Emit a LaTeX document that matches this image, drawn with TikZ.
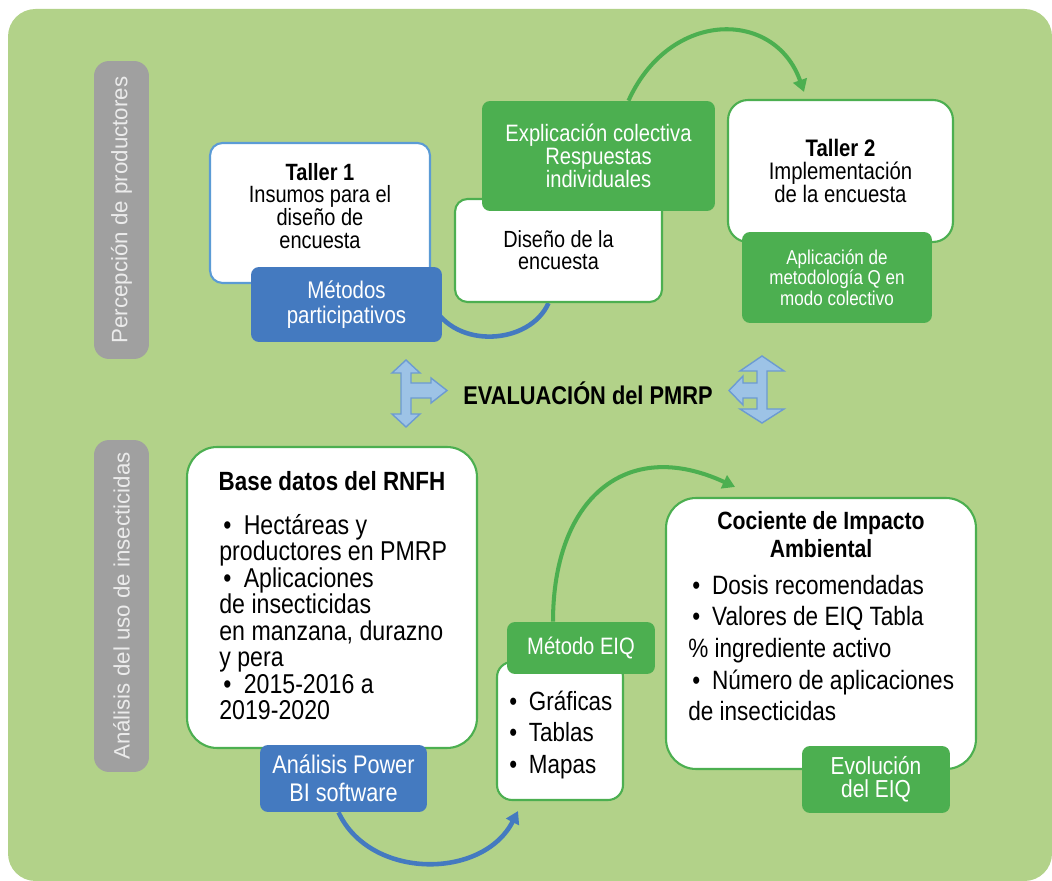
\documentclass[tikz,border=0pt]{standalone}
\usepackage{fontspec}
\setmainfont{Liberation Sans}[FakeStretch=0.85]
\newfontfamily\sidefont{Liberation Sans}
\usetikzlibrary{arrows.meta}

\definecolor{bggreen}{RGB}{178,210,137}
\definecolor{boxgreen}{RGB}{76,175,80}
\definecolor{boxblue}{RGB}{68,122,192}
\definecolor{lineblue}{RGB}{91,155,213}
\definecolor{sidegray}{RGB}{160,160,160}
\definecolor{arrowfill}{RGB}{157,195,230}
\definecolor{arrowline}{RGB}{108,155,210}

\pgfdeclarelayer{back}
\pgfdeclarelayer{mid}
\pgfsetlayers{back,mid,main}

\newcommand{\blt}{\hspace*{0.15em}\textbullet\hspace{0.45em}}

\begin{document}
\begin{tikzpicture}[x=0.02cm, y=-0.02cm,
    sidebox/.style = {fill=sidegray, rounded corners=0.3cm, inner sep=0pt, rotate=90,
                      text=white!92!black, font=\sidefont\fontsize{12.7}{14}\selectfont},
    whitebox/.style = {draw=boxgreen, line width=1.2pt, fill=white, rounded corners=0.4cm, inner sep=0pt, align=center},
    greenbox/.style = {fill=boxgreen, text=white, rounded corners=0.16cm, inner sep=0pt, align=center},
    bluebox/.style = {fill=boxblue, text=white, rounded corners=0.16cm, inner sep=0pt, align=center},
    txt/.style = {inner sep=0pt, align=center},
    list/.style = {inner sep=0pt, align=left, anchor=west},
    greenarc/.style = {draw=boxgreen, line width=2.3pt, -{Triangle[length=7pt,width=8pt]}},
    bluearc/.style = {draw=boxblue, line width=2.6pt},
    quad/.style = {fill=arrowfill, draw=arrowline, line width=0.8pt}]

    \useasboundingbox (0,0) rectangle (1052,881);
    \begin{pgfonlayer}{back}
        \fill[bggreen, rounded corners=0.55cm] (8,9) rectangle (1052,881);
    \end{pgfonlayer}

    % Side labels
    \node[sidebox, minimum width=5.96cm, minimum height=1.1cm] (side1) at (121.5,210) {Percepción de productores};
    \node[sidebox, minimum width=6.64cm, minimum height=1.1cm] (side2) at (121.5,606) {Análisis del uso de insecticidas};

    % Top row
    \node[whitebox, draw=lineblue, rounded corners=0.25cm, minimum width=4.4cm, minimum height=2.8cm] (taller1) at (320,213) {};
    \node[txt, font=\fontsize{13.4}{13}\selectfont] (taller1-txt) at (320,206) {\textbf{Taller 1}\\Insumos para el\\diseño de\\encuesta};
    \node[bluebox, minimum width=3.82cm, minimum height=1.5cm, font=\fontsize{13.7}{14.2}\selectfont] (metodos) at (346.5,304.5) {Métodos\\participativos};

    \node[whitebox, rounded corners=0.25cm, minimum width=4.14cm, minimum height=2.06cm, font=\fontsize{13.3}{12.6}\selectfont] (diseno) at (558.5,250.5) {Diseño de la\\encuesta};
    \node[greenbox, minimum width=4.66cm, minimum height=2.2cm, font=\fontsize{13.5}{13}\selectfont] (explic) at (598.5,156) {Explicación colectiva\\Respuestas\\individuales};

    \node[whitebox, minimum width=4.5cm, minimum height=2.84cm, font=\fontsize{13.6}{13.2}\selectfont] (taller2) at (840.5,171) {\textbf{Taller 2}\\Implementación\\de la encuesta};
    \node[greenbox, minimum width=3.8cm, minimum height=1.82cm, font=\fontsize{11.4}{11.6}\selectfont] (aplic) at (837,277.5) {Aplicación de\\metodología Q en\\modo colectivo};

    % Middle
    \node[txt, font=\bfseries\fontsize{14.6}{16}\selectfont] (eval) at (588,393) {EVALUACIÓN del PMRP};
    \draw[quad] (406,360) -- (420,373) -- (411,373) -- (411,383) -- (431,383) -- (431,378) -- (447,390.5)
        -- (431,403) -- (431,398) -- (411,398) -- (411,414) -- (420,414) -- (406,427) -- (392,414)
        -- (401,414) -- (401,373) -- (392,373) -- cycle;
    \draw[quad] (762,356) -- (784,371) -- (767,371) -- (767,409) -- (784,409) -- (762,423) -- (740,409)
        -- (757,409) -- (757,398) -- (743,398) -- (743,405) -- (729,390.5) -- (743,376) -- (743,383)
        -- (757,383) -- (757,371) -- (740,371) -- cycle;

    % Bottom row
    \node[whitebox, rounded corners=0.6cm, minimum width=5.8cm, minimum height=6.02cm] (base) at (332,597.5) {};
    \node[txt, font=\bfseries\fontsize{15}{16}\selectfont] (base-title) at (332,481) {Base datos del RNFH};
    \node[list, font=\fontsize{15.5}{15.1}\selectfont] (base-list) at (219,617) {\blt Hectáreas y\\productores en PMRP\\\blt Aplicaciones\\de insecticidas\\en manzana, durazno\\y pera\\\blt 2015-2016 a\\2019-2020};
    \node[bluebox, minimum width=3.34cm, minimum height=1.34cm, font=\fontsize{14.5}{15.9}\selectfont] (powerbi) at (343.5,778.5) {Análisis Power\\BI software};

    \node[whitebox, rounded corners=0.3cm, minimum width=2.52cm, minimum height=2.76cm] (graf) at (560,731) {};
    \node[list, font=\fontsize{15}{18}\selectfont] (graf-list) at (505,735) {\blt Gráficas\\\blt Tablas\\\blt Mapas};
    \node[greenbox, minimum width=2.96cm, minimum height=1.04cm, font=\fontsize{13.5}{14}\selectfont] (metodoeiq) at (581,648) {Método EIQ};

    \node[whitebox, rounded corners=0.6cm, minimum width=6.2cm, minimum height=5.42cm] (cociente) at (821,633.5) {};
    \node[txt, font=\bfseries\fontsize{14.2}{16}\selectfont] (cociente-title) at (821,535) {Cociente de Impacto\\Ambiental};
    \node[list, font=\fontsize{15.1}{18}\selectfont] (cociente-list) at (688,648) {\blt Dosis recomendadas\\\blt Valores de EIQ Tabla\\\% ingrediente activo\\\blt Número de aplicaciones\\de insecticidas};
    \node[greenbox, minimum width=2.96cm, minimum height=1.34cm, font=\fontsize{14}{13}\selectfont] (evol) at (876,779.5) {Evolución\\del EIQ};

    % Arcs
    \begin{pgfonlayer}{mid}
        \draw[bluearc] ([xshift=-0.2cm]metodos.east) .. controls (455,350) and (530,345) .. ([xshift=-0.2cm]diseno.south);
        \draw[greenarc] ([xshift=0.6cm]explic.north) .. controls (670,9) and (775,9) .. ([xshift=-0.73cm,yshift=0.14cm]taller2.north);
        \draw[bluearc, -{Triangle[length=7pt,width=8pt]}] ([xshift=-0.1cm]powerbi.south) .. controls (370,880) and (483,880) .. ([xshift=-0.84cm,yshift=-0.2cm]graf.south);
        \draw[greenarc] ([xshift=-0.56cm]metodoeiq.north) .. controls (553,500) and (625,436) .. ([xshift=-1.72cm,yshift=0.2cm]cociente.north);
    \end{pgfonlayer}

\end{tikzpicture}
\end{document}
